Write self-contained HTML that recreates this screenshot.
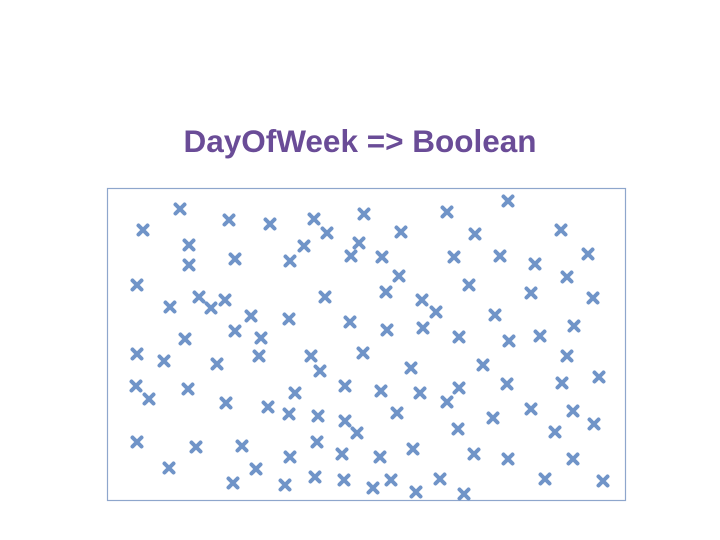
<!DOCTYPE html>
<html><head><meta charset="utf-8"><style>
html,body{margin:0;padding:0;background:#fff;}
#wrap{position:relative;width:720px;height:540px;overflow:hidden;}
#title{position:absolute;left:0;top:123px;width:720px;text-align:center;font-family:"Liberation Sans",sans-serif;font-weight:bold;font-size:31.5px;color:#6a4c97;}
svg{position:absolute;left:0;top:0;}
</style></head><body>
<div id="wrap">
<div id="title">DayOfWeek =&gt; Boolean</div>
<svg id="chart" width="720" height="540">
<rect x="107.5" y="188.5" width="518" height="312" fill="#fff" stroke="#8ea6cc" stroke-width="1.2"></rect>
<g id="pts"></g>
</svg>
</div>
<script>
const xs=[36,73,122,163,207,220,257,294,340,368,401,454,82,82,128,183,197,244,252,275,292,347,393,428,460,481,30,63,92,104,118,144,182,218,279,315,329,362,424,486,78,128,154,243,280,316,352,388,402,433,467,30,57,110,152,204,213,256,304,376,460,29,42,81,119,161,188,182,211,238,238,250,274,290,313,340,352,351,386,400,424,455,466,492,487,448,30,89,135,183,210,235,273,306,367,401,466,62,126,149,178,208,237,266,284,309,333,357,438,496];
const ys=[42,21,32,36,31,45,26,44,24,46,13,42,57,77,71,73,58,68,55,69,88,69,68,76,89,66,97,119,109,120,112,128,131,109,104,112,124,97,105,110,151,143,150,134,142,140,149,127,153,148,138,166,173,176,168,168,183,165,180,177,168,198,211,201,215,219,205,226,228,198,233,245,203,225,205,214,200,241,230,196,221,195,223,189,236,244,254,259,258,269,254,266,269,261,266,271,271,280,295,281,297,289,292,300,292,304,291,306,291,293];
const X0=107,Y0=188;
function sx(v){return X0+v;}
function sy(v){return Y0+v;}
const g=document.getElementById('pts');
const NS='http://www.w3.org/2000/svg';
const n=Math.min(xs.length,ys.length);
for(let i=0;i<n;i++){
  const cx=sx(xs[i]),cy=sy(ys[i]),r=4.5;
  const p=document.createElementNS(NS,'path');
  p.setAttribute('d',`M${cx-r},${cy-r}L${cx+r},${cy+r}M${cx-r},${cy+r}L${cx+r},${cy-r}`);
  p.setAttribute('stroke','#7094c8');
  p.setAttribute('stroke-width','4');
  p.setAttribute('stroke-linecap','round');
  
  
  g.appendChild(p);
}
</script>
</body></html>
